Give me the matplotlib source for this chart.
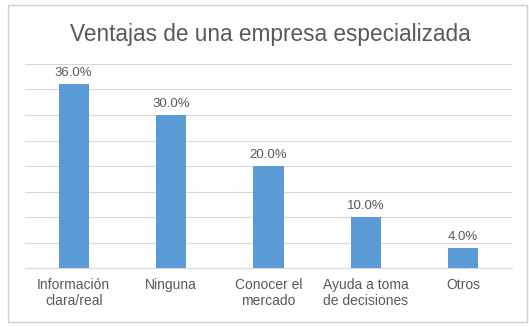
import matplotlib.pyplot as plt
from matplotlib.patches import Rectangle

categories = ["Información\nclara/real", "Ninguna", "Conocer el\nmercado",
              "Ayuda a toma\nde decisiones", "Otros"]
values = [36.0, 30.0, 20.0, 10.0, 4.0]
title = "Ventajas de una empresa especializada"

plt.rcParams['font.family'] = ['Liberation Sans', 'DejaVu Sans']
text_color = '#595959'

fig = plt.figure(figsize=(5.29, 3.27), dpi=100)
# light frame around the whole chart
fig.patches.append(Rectangle((8 / 529, 5 / 327), 519 / 529, 317 / 327,
                             transform=fig.transFigure, fill=False,
                             edgecolor='#d0d0d0', linewidth=1))

ax = fig.add_axes([25 / 529, 1 - 268 / 327, 487 / 529, 204 / 327])
x = range(len(values))
ax.bar(x, values, width=0.31, color='#5b9bd5', zorder=3)
for xi, v in zip(x, values):
    ax.text(xi, v + 1.0, f"{v:.1f}%", ha='center', va='bottom',
            fontsize=9.5, color=text_color)

ax.set_xlim(-0.5, len(values) - 0.5)
ax.set_ylim(0, 40)
ax.set_yticks(range(0, 41, 5))
ax.yaxis.grid(True, color='#d9d9d9', linewidth=0.8, zorder=0)
ax.tick_params(axis='y', left=False, labelleft=False)
ax.tick_params(axis='x', length=0, pad=7, labelsize=10, labelcolor=text_color)
ax.set_xticks(list(x))
ax.set_xticklabels(categories, linespacing=1.25)
for s in ['top', 'left', 'right']:
    ax.spines[s].set_visible(False)
ax.spines['bottom'].set_color('#d9d9d9')

fig.text(270 / 529, 1 - 35 / 327, title, ha='center', va='center',
         fontsize=16.3, color=text_color)

fig.savefig("out.png", dpi=100)
